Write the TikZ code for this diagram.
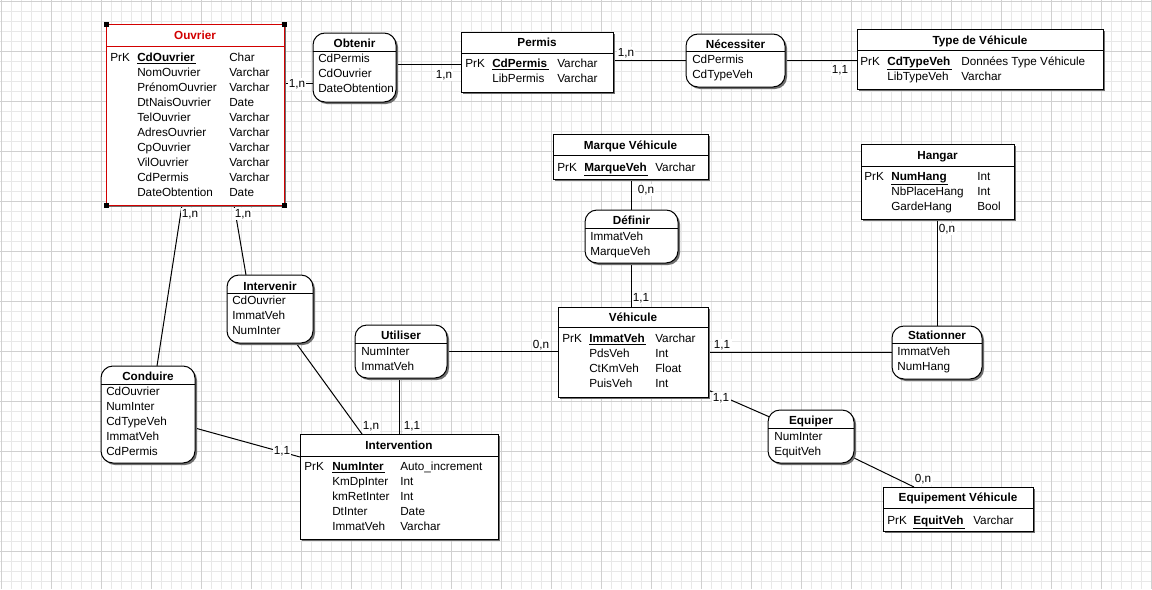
\documentclass[tikz,border=0pt]{standalone}
\usepackage{fontspec}
\setmainfont{Liberation Sans}
\usetikzlibrary{calc,shadows}
\definecolor{gridminor}{RGB}{232,232,232}
\definecolor{gridmajor}{RGB}{208,208,208}
\definecolor{ouvred}{RGB}{210,0,0}
\definecolor{shadowgray}{RGB}{110,110,110}
\pgfdeclarelayer{bg}
\pgfdeclarelayer{lines}
\pgfsetlayers{bg,lines,main}
\newcommand\pk[1]{\underline{\textbf{#1}\kern1.2pt}}
\newcommand\mkbox[6]{\node[#2, minimum width={(#5-#3)*0.75pt}, minimum height={(#6-#4)*0.75pt}] (#1) at ({(#3+#5)/2},{(#4+#6)/2}) {};}
\newcommand\erfont{\fontsize{8.8}{10.5}\selectfont}
\tikzset{
  boxbase/.style={draw=black, line width=0.75pt, fill=white, inner sep=0pt, outer sep=0pt,
     general shadow={fill=shadowgray, shadow xshift=1.5pt, shadow yshift=-1.5pt}},
  entbox/.style={boxbase},
  assobox/.style={boxbase, rounded corners=9pt},
  ttl/.style={font=\erfont\bfseries, inner sep=0pt, anchor=base},
  attr/.style={font=\erfont, inner sep=0pt, anchor=base west},
  card/.style={font=\erfont, fill=white, inner sep=1pt},
  link/.style={draw=black, line width=0.75pt},
  sepline/.style={line width=0.75pt},
}
\begin{document}
\begin{tikzpicture}[x=0.75pt, y=-0.75pt, font=\erfont]
\useasboundingbox (0,0) rectangle (1152,589);
\begin{pgfonlayer}{bg}
\fill[white] (0,0) rectangle (1152,589);
\foreach \i in {0,10,...,1150} \draw[gridminor, line width=0.75pt] (\i+1,0) -- (\i+1,589);
\foreach \j in {0,10,...,580} \draw[gridminor, line width=0.75pt] (0,\j+1) -- (1152,\j+1);
\foreach \i in {0,50,...,1150} \draw[gridmajor, line width=0.75pt] (\i+1,0) -- (\i+1,589);
\foreach \j in {0,50,...,550} \draw[gridmajor, line width=0.75pt] (0,\j+1) -- (1152,\j+1);
\end{pgfonlayer}

% ---------- Ouvrier
\mkbox{ouv}{entbox, draw=ouvred}{106}{24}{284}{205}
\draw[sepline, ouvred] (106,46) -- (284,46);
\node[ttl, text=ouvred] (ouv-t) at (195,39) {Ouvrier};
\node[attr] (ouv-k) at (110,61) {PrK};
\node[attr] (ouv-n0) at (137,61) {\pk{CdOuvrier}};
\node[attr] (ouv-y0) at (229,61) {Char};
\foreach \n/\t [count=\k] in {NomOuvrier/Varchar, PrénomOuvrier/Varchar, DtNaisOuvrier/Date, TelOuvrier/Varchar, AdresOuvrier/Varchar, CpOuvrier/Varchar, VilOuvrier/Varchar, CdPermis/Varchar, DateObtention/Date}{
  \node[attr] (ouv-n\k) at (137,61+15*\k) {\n};
  \node[attr] (ouv-y\k) at (229,61+15*\k) {\t};
}
\foreach \cx/\cy [count=\k] in {106/24,284/24,106/205,284/205}
  \fill[black] (\cx-2.5,\cy-2.5) rectangle (\cx+2.5,\cy+2.5);

% ---------- Obtenir
\mkbox{obt}{assobox}{313}{33}{396}{102}
\draw[sepline] (313,51) -- (396,51);
\node[ttl] (obt-t) at (354.5,47) {Obtenir};
\node[attr] (obt-1) at (318,62.5) {CdPermis};
\node[attr] (obt-2) at (318,77.5) {CdOuvrier};
\node[attr] (obt-3) at (318,92) {DateObtention};

% ---------- Permis
\mkbox{perm}{entbox}{461}{32}{613}{92}
\draw[sepline] (461,53) -- (613,53);
\node[ttl] (perm-t) at (537,46) {Permis};
\node[attr] (perm-k) at (465,67.5) {PrK};
\node[attr] (perm-n1) at (492,67.5) {\pk{CdPermis}};
\node[attr] (perm-y1) at (557,67.5) {Varchar};
\node[attr] (perm-n2) at (492,82) {LibPermis};
\node[attr] (perm-y2) at (557,82) {Varchar};

% ---------- Nécessiter
\mkbox{nec}{assobox}{686}{34}{785}{87}
\draw[sepline] (686,51) -- (785,51);
\node[ttl] (nec-t) at (735.5,48) {Nécessiter};
\node[attr] (nec-1) at (692,63) {CdPermis};
\node[attr] (nec-2) at (692,78.5) {CdTypeVeh};

% ---------- Type de Véhicule
\mkbox{tdv}{entbox}{857}{29}{1103}{89}
\draw[sepline] (857,50) -- (1103,50);
\node[ttl] (tdv-t) at (980,44) {Type de Véhicule};
\node[attr] (tdv-k) at (860,65) {PrK};
\node[attr] (tdv-n1) at (887,65) {\pk{CdTypeVeh}};
\node[attr] (tdv-y1) at (961,65) {Données Type Véhicule};
\node[attr] (tdv-n2) at (887,80) {LibTypeVeh};
\node[attr] (tdv-y2) at (961,80) {Varchar};

% ---------- Marque Véhicule
\mkbox{mar}{entbox}{553}{134}{708}{179}
\draw[sepline] (553,155) -- (708,155);
\node[ttl] (mar-t) at (630.5,149) {Marque Véhicule};
\node[attr] (mar-k) at (557,171) {PrK};
\node[attr] (mar-n1) at (584,171) {\pk{MarqueVeh}};
\node[attr] (mar-y1) at (655,171) {Varchar};

% ---------- Définir
\mkbox{def}{assobox}{585}{210}{678}{263}
\draw[sepline] (585,228) -- (678,228);
\node[ttl] (def-t) at (631.5,224) {Définir};
\node[attr] (def-1) at (590,240) {ImmatVeh};
\node[attr] (def-2) at (590,255) {MarqueVeh};

% ---------- Véhicule
\mkbox{veh}{entbox}{558}{307}{708}{397}
\draw[sepline] (558,327) -- (708,327);
\node[ttl] (veh-t) at (633,321) {Véhicule};
\node[attr] (veh-k) at (562,342) {PrK};
\node[attr] (veh-n0) at (589,342) {\pk{ImmatVeh}};
\node[attr] (veh-y0) at (655,342) {Varchar};
\foreach \n/\t [count=\k] in {PdsVeh/Int, CtKmVeh/Float, PuisVeh/Int}{
  \node[attr] (veh-n\k) at (589,342+15*\k) {\n};
  \node[attr] (veh-y\k) at (655,342+15*\k) {\t};
}

% ---------- Hangar
\mkbox{han}{entbox}{861}{144}{1014}{219}
\draw[sepline] (861,166) -- (1014,166);
\node[ttl] (han-t) at (937.5,159) {Hangar};
\node[attr] (han-k) at (864,180) {PrK};
\node[attr] (han-n0) at (891,180) {\pk{NumHang}};
\node[attr] (han-y0) at (977,180) {Int};
\node[attr] (han-n1) at (891,195) {NbPlaceHang};
\node[attr] (han-y1) at (977,195) {Int};
\node[attr] (han-n2) at (891,210) {GardeHang};
\node[attr] (han-y2) at (977,210) {Bool};

% ---------- Stationner
\mkbox{sta}{assobox}{892}{326}{982}{379}
\draw[sepline] (892,343) -- (982,343);
\node[ttl] (sta-t) at (937,339) {Stationner};
\node[attr] (sta-1) at (897,355) {ImmatVeh};
\node[attr] (sta-2) at (897,370) {NumHang};

% ---------- Intervenir
\mkbox{itv}{assobox}{227}{275}{313}{343}
\draw[sepline] (227,293) -- (313,293);
\node[ttl] (itv-t) at (270,290) {Intervenir};
\node[attr] (itv-1) at (232,304) {CdOuvrier};
\node[attr] (itv-2) at (232,319) {ImmatVeh};
\node[attr] (itv-3) at (232,334) {NumInter};

% ---------- Utiliser
\mkbox{uti}{assobox}{355}{325}{447}{378}
\draw[sepline] (355,343) -- (447,343);
\node[ttl] (uti-t) at (401,339) {Utiliser};
\node[attr] (uti-1) at (361,355) {NumInter};
\node[attr] (uti-2) at (361,370) {ImmatVeh};

% ---------- Conduire
\mkbox{con}{assobox}{101}{366}{195}{463}
\draw[sepline] (101,384) -- (195,384);
\node[ttl] (con-t) at (148,380) {Conduire};
\foreach \n [count=\k from 0] in {CdOuvrier, NumInter, CdTypeVeh, ImmatVeh, CdPermis}
  \node[attr] (con-\k) at (106,395+15*\k) {\n};

% ---------- Intervention
\mkbox{int}{entbox}{300}{434}{498}{539}
\draw[sepline] (300,456) -- (498,456);
\node[ttl] (int-t) at (399,449) {Intervention};
\node[attr] (int-k) at (304,470) {PrK};
\node[attr] (int-n0) at (332,470) {\pk{NumInter}};
\node[attr] (int-y0) at (400,470) {Auto\_increment};
\foreach \n/\t [count=\k] in {KmDpInter/Int, kmRetInter/Int, DtInter/Date, ImmatVeh/Varchar}{
  \node[attr] (int-n\k) at (332,470+15*\k) {\n};
  \node[attr] (int-y\k) at (400,470+15*\k) {\t};
}

% ---------- Equiper
\mkbox{equ}{assobox}{768}{410}{854}{463}
\draw[sepline] (768,428) -- (854,428);
\node[ttl] (equ-t) at (811,424) {Equiper};
\node[attr] (equ-1) at (774,440) {NumInter};
\node[attr] (equ-2) at (774,455) {EquitVeh};

% ---------- Equipement Véhicule
\mkbox{eqv}{entbox}{883}{487}{1033}{531}
\draw[sepline] (883,508) -- (1033,508);
\node[ttl] (eqv-t) at (958,501) {Equipement Véhicule};
\node[attr] (eqv-k) at (887,524) {PrK};
\node[attr] (eqv-n1) at (913,524) {\pk{EquitVeh}};
\node[attr] (eqv-y1) at (973,524) {Varchar};

% ---------- connectors
\begin{pgfonlayer}{lines}
\draw[link] ($(ouv.east)+(0,-31.5)$) -- ($(obt.west)+(0,15.5)$);
\draw[link] ($(obt.east)+(0,-3.5)$) -- ($(perm.west)+(0,2)$);
\draw[link] ($(perm.east)+(0,-1.5)$) -- (nec.west);
\draw[link] (nec.east) -- ($(tdv.west)+(0,1.5)$);
\draw[link] ($(mar.south)+(0.5,0)$) -- ($(def.north)+(-0.5,0)$);
\draw[link] ($(def.south)+(-0.5,0)$) -- ($(veh.north)+(-2,0)$);
\draw[link] ($(han.south)+(-0.5,0)$) -- (sta.north);
\draw[link] (veh.east) -- (veh.east -| sta.west);
\draw[link] (uti.east) -- (uti.east -| veh.west);
\draw[link] ($(veh.south east)+(0,-7)$) -- ($(equ.north west)+(4,8)$);
\draw[link] ($(equ.south east)+(-2,-6)$) -- ($(eqv.north west)+(31,0)$);
\draw[link] ($(uti.south)+(-2,0)$) -- (int.north);
\draw[link] ($(itv.south)+(26,0)$) -- ($(int.north west)+(62,0)$);
\draw[link] ($(ouv.south west)+(76,0)$) -- ($(con.north)+(9,0)$);
\draw[link] ($(ouv.south west)+(128,0)$) -- ($(itv.north)+(-24,0)$);
\draw[link] ($(con.east)+(0,13.5)$) -- ($(int.west)+(0,-29.5)$);
\end{pgfonlayer}

% ---------- cardinalities
\node[card] (c1) at (297,84) {1,n};
\node[card] (c2) at (444,75) {1,n};
\node[card] (c3) at (626,53) {1,n};
\node[card] (c4) at (840,70) {1,1};
\node[card] (c5) at (646,190) {0,n};
\node[card] (c6) at (641,298) {1,1};
\node[card] (c7) at (947,229) {0,n};
\node[card] (c8) at (722,345) {1,1};
\node[card] (c9) at (541,345) {0,n};
\node[card] (c10) at (721,398) {1,1};
\node[card] (c11) at (923,479) {0,n};
\node[card] (c12) at (412,426) {1,1};
\node[card] (c13) at (371,426) {1,n};
\node[card] (c14) at (190,214) {1,n};
\node[card] (c15) at (243,214) {1,n};
\node[card] (c16) at (282,451) {1,1};
\end{tikzpicture}
\end{document}
